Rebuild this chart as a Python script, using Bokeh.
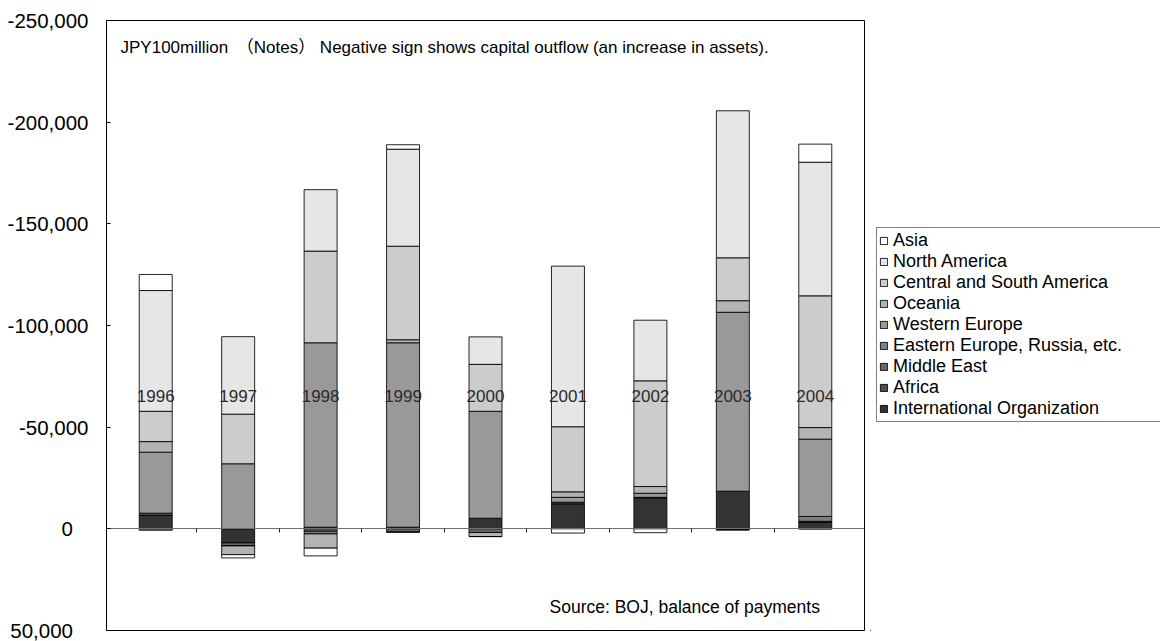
import numpy as np
from bokeh.plotting import figure
from bokeh.layouts import row
from bokeh.models import (Range1d, FixedTicker, Legend, LegendItem, Label,
                          ColumnDataSource)
from bokeh.core.properties import value
from bokeh.embed import file_html
from bokeh.resources import INLINE

# ---------------- data (JPY 100 million; negative = outflow) ----------------
years = ["1996", "1997", "1998", "1999", "2000", "2001", "2002", "2003", "2004"]

international_organization = [-6600, 6900, -800, -800, -5200, -12300, -15200, -18500, -3200]
africa = [-1100, 0, 0, 0, 0, -800, -300, 0, -500]
middle_east = [0, 1500, 1200, 1600, 1800, 0, 0, 0, 0]
eastern_europe = [700, 0, 1300, 0, 0, 0, 0, 500, -2400]
western_europe = [-30000, -32000, -90700, -90700, -52600, -2400, -2000, -88000, -38000]
oceania = [-5200, 4300, 7000, -1500, 2000, -2700, -3300, -5700, -5700]
central_south_america = [-14900, -24400, -45100, -46000, -23100, -32000, -52000, -21100, -64800]
north_america = [-59400, -38100, -30200, -47700, -13500, -79000, -29800, -72300, -65700]
asia = [-7900, 1600, 3800, -2200, 0, 2100, 1900, 0, -8900]

series_names = ["International Organization", "Africa", "Middle East",
                "Eastern Europe, Russia, etc.", "Western Europe", "Oceania",
                "Central and South America", "North America", "Asia"]
series_values = [international_organization, africa, middle_east, eastern_europe,
                 western_europe, oceania, central_south_america, north_america, asia]
series_colors = ["#333333", "#4d4d4d", "#666666", "#808080", "#999999",
                 "#b3b3b3", "#cccccc", "#e6e6e6", "#ffffff"]

y_ticks = [-250000, -200000, -150000, -100000, -50000, 0, 50000]
y_tick_labels = ["-250,000", "-200,000", "-150,000", "-100,000", "-50,000", "0", "50,000"]

note_text = "JPY100million\u3000\uff08Notes\uff09 Negative sign shows capital outflow (an increase in assets)."
source_text = "Source: BOJ, balance of payments"

FONT = "Liberation Sans, Arial, 'Noto Sans CJK JP', sans-serif"
YEAR_LABEL_Y = -65300

# ---------------- main figure ----------------
n = len(years)
pad = 0.097
p = figure(width=870, height=641,
           x_range=Range1d(0.5 - pad, n + 0.5 + pad),
           y_range=Range1d(50000, -250000),
           output_backend="svg", toolbar_location=None,
           min_border_left=106, min_border_right=6,
           min_border_top=20, min_border_bottom=11)
p.background_fill_color = "white"
p.border_fill_color = "white"
p.outline_line_color = "black"
p.outline_line_width = 1
p.xgrid.visible = False
p.ygrid.visible = False

x = np.arange(1, n + 1)
pos = np.zeros(n)
neg = np.zeros(n)
for name, vals, col in zip(series_names, series_values, series_colors):
    v = np.array(vals, dtype=float)
    bottom = np.where(v >= 0, pos, neg)
    top = bottom + v
    pos = np.where(v >= 0, top, pos)
    neg = np.where(v < 0, top, neg)
    src = ColumnDataSource(dict(x=x, bottom=bottom, top=top))
    p.vbar(x="x", bottom="bottom", top="top", width=0.4, source=src,
           fill_color=col, line_color="black", line_width=1, line_alpha=0.85)

# year labels in the middle of the plot
p.text(x=x, y=[YEAR_LABEL_Y] * n, text=years, text_align="center",
       text_baseline="middle", text_font=value(FONT), text_font_size="17px",
       text_color="#2b2b2b")

# x axis drawn along zero
xticks = list(np.arange(1.5, n))
p.xaxis.fixed_location = 0
p.xaxis.ticker = FixedTicker(ticks=xticks)
p.xaxis.major_label_overrides = {t: "" for t in xticks}
p.xaxis.major_tick_in = 0
p.xaxis.major_tick_out = 4
p.xaxis.minor_tick_line_color = None
p.xaxis.axis_line_color = "#707070"
p.xaxis.major_tick_line_color = "#222222"
p.xaxis.major_label_standoff = 0

# y axis
p.yaxis.ticker = FixedTicker(ticks=y_ticks)
p.yaxis.major_label_overrides = {
    t: (lab + "\u2007\u2009" if t >= 0 else lab) for t, lab in zip(y_ticks, y_tick_labels)
}
p.yaxis.major_tick_in = 4
p.yaxis.major_tick_out = 0
p.yaxis.minor_tick_line_color = None
p.yaxis.axis_line_color = "black"
p.yaxis.major_tick_line_color = "black"
p.yaxis.major_label_standoff = 18
p.yaxis.major_label_text_font = FONT
p.yaxis.major_label_text_font_size = "20.5px"
p.yaxis.major_label_text_color = "black"

# notes
p.add_layout(Label(x=14, y=583, x_units="screen", y_units="screen", text=note_text,
                   text_baseline="middle", text_font=FONT, text_font_size="17px",
                   text_color="black"))
p.add_layout(Label(x=443, y=24, x_units="screen", y_units="screen", text=source_text,
                   text_baseline="middle", text_font=FONT, text_font_size="17.5px",
                   text_color="black"))

# ---------------- legend panel ----------------
lg = figure(width=290, height=641, output_backend="svg", toolbar_location=None,
            x_range=Range1d(0, 1), y_range=Range1d(0, 1),
            x_axis_location=None, y_axis_location=None,
            min_border_left=0, min_border_right=0, min_border_top=0, min_border_bottom=0)
lg.outline_line_color = None
lg.xgrid.visible = False
lg.ygrid.visible = False
proxies = []
for name, col in zip(series_names, series_colors):
    # legend proxy: one zero-height bar placed outside the visible range
    r = lg.vbar(x=[-5], bottom=[-5], top=[-5], width=0.4, fill_color=col,
                line_color="black", line_width=1, line_alpha=0.85)
    proxies.append((name, r))
items = [LegendItem(label=name, renderers=[r]) for name, r in reversed(proxies)]
legend = Legend(items=items, location=(6, 208), orientation="vertical",
                border_line_color="black", border_line_width=1,
                background_fill_color="white", background_fill_alpha=1.0,
                padding=2, spacing=0, margin=0, glyph_width=9, glyph_height=9,
                label_height=21, label_width=280, label_standoff=5,
                label_text_font=FONT, label_text_font_size="18px",
                label_text_color="black")
lg.add_layout(legend, "center")

layout = row(p, lg, spacing=0)
open("out.html", "w").write(file_html(layout, INLINE))
